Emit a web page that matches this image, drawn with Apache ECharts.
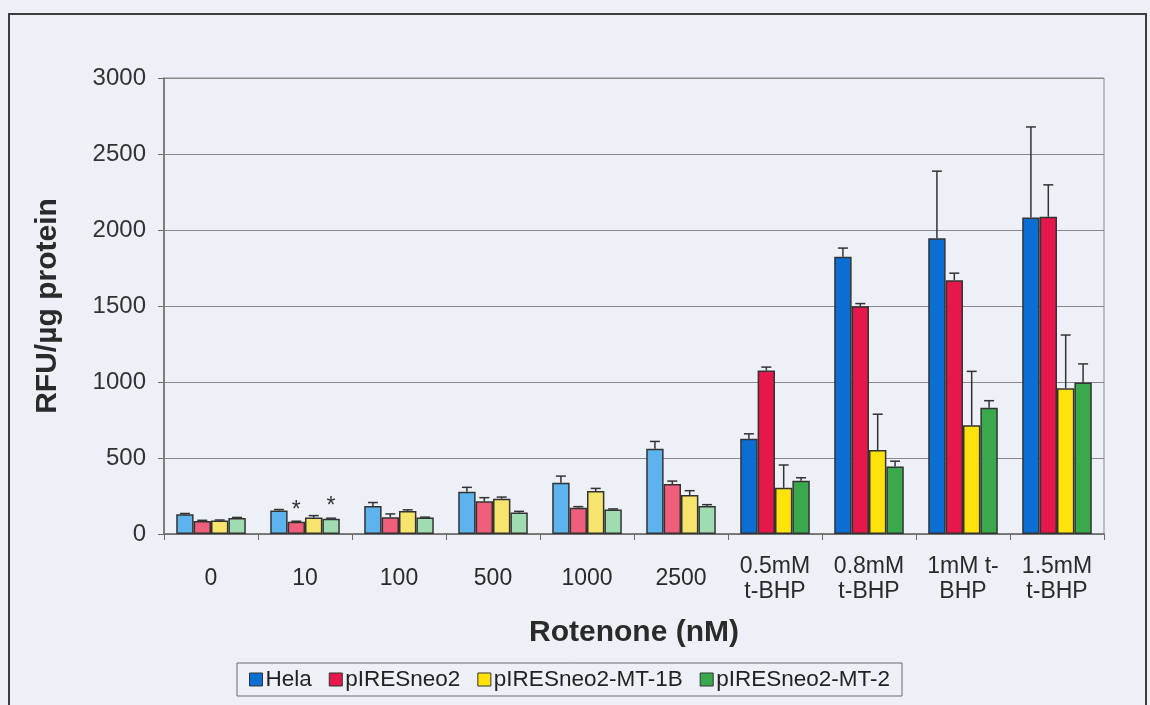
<!DOCTYPE html>
<html>
<head>
<meta charset="utf-8">
<title>RFU/µg protein vs Rotenone</title>
<script src="https://cdn.jsdelivr.net/npm/echarts@6/dist/echarts.min.js"></script>
<style>
  html, body { margin: 0; padding: 0; background: #edf0f7; }
  #chart { width: 1150px; height: 705px; }
</style>
</head>
<body>
<div id="chart"></div>
<script>
// Categories along the x axis (rotenone dose, then t-BHP controls)
const categories = ['0', '10', '100', '500', '1000', '2500',
  '0.5mM\nt-BHP', '0.8mM\nt-BHP', '1mM t-\nBHP', '1.5mM\nt-BHP'];

const seriesNames = ['Hela', 'pIRESneo2', 'pIRESneo2-MT-1B', 'pIRESneo2-MT-2'];

// Mean RFU/µg protein per cell line
const hela  = [130, 154, 185, 278, 337, 561, 626, 1824, 1945, 2083];
const pires = [86, 81, 110, 215, 173, 329, 1076, 1498, 1670, 2087];
const mt1b  = [88, 108, 152, 232, 283, 256, 304, 552, 716, 959];
const mt2   = [106, 101, 108, 142, 162, 184, 350, 444, 831, 996];

// Upper error (standard deviation) per cell line
const helaErr  = [5, 7, 22, 29, 44, 48, 33, 57, 442, 595];
const piresErr = [4, 3, 22, 24, 7, 19, 22, 18, 46, 210];
const mt1bErr  = [4, 13, 7, 11, 17, 29, 150, 236, 354, 350];
const mt2Err   = [3, 3, 3, 7, 3, 9, 20, 35, 46, 123];

// Significance markers: [series index, category index]
const starMarks = [[1, 1], [3, 1]];

const yTicks = { min: 0, max: 3000, interval: 500 };

// Rotenone groups use pale fills, t-BHP groups use full-strength fills
const strongColors = ['#0a6ed2', '#e5174b', '#ffe20a', '#3aa94c'];
const paleColors   = ['#5cb3ee', '#ef5f7b', '#f7e46c', '#9fdcb2'];
const firstStrong = 6;

const values = [hela, pires, mt1b, mt2];
const errors = [helaErr, piresErr, mt1bErr, mt2Err];
const CAT_GAP = 0.26;
const FONT = '"Liberation Sans", Arial, sans-serif';

function barSeries(idx) {
  return {
    type: 'bar',
    name: seriesNames[idx],
    barGap: '0%',
    barCategoryGap: (CAT_GAP * 100) + '%',
    itemStyle: { color: strongColors[idx], borderColor: '#333', borderWidth: 1.5 },
    data: values[idx].map((v, i) => {
      const item = {
        value: v,
        itemStyle: { color: i < firstStrong ? paleColors[idx] : strongColors[idx] }
      };
      if (starMarks.some(s => s[0] === idx && s[1] === i)) {
        item.label = {
          show: true, position: 'top', distance: 0, formatter: '*',
          fontSize: 23, color: '#333', fontFamily: FONT
        };
      }
      return item;
    })
  };
}

function errorSeries(idx) {
  return {
    type: 'custom',
    name: seriesNames[idx] + ' SD',
    z: 3,
    silent: true,
    data: values[idx].map((v, i) => [i, v, v + errors[idx][i]]),
    renderItem: function (params, api) {
      const cat = api.value(0);
      const base = api.coord([cat, api.value(1)]);
      const top = api.coord([cat, api.value(2)]);
      const band = api.size([1, 0])[0];
      const barW = band * (1 - CAT_GAP) / 4;
      const x = base[0] + (idx - 1.5) * barW;
      const half = 5;
      const style = { stroke: '#333', lineWidth: 1.5 };
      return {
        type: 'group',
        children: [
          { type: 'line', shape: { x1: x, y1: base[1], x2: x, y2: top[1] }, style: style },
          { type: 'line', shape: { x1: x - half, y1: top[1], x2: x + half, y2: top[1] }, style: style }
        ]
      };
    }
  };
}

const chart = echarts.init(document.getElementById('chart'), null, { renderer: 'canvas' });

const option = {
  backgroundColor: '#edf0f7',
  animation: false,
  textStyle: { fontFamily: FONT },
  graphic: [{
    type: 'rect',
    shape: { x: 9, y: 14, width: 1137, height: 720 },
    style: { fill: 'none', stroke: '#3c3c3c', lineWidth: 2 },
    silent: true
  }],
  grid: {
    left: 164, right: 46, top: 78, bottom: 171,
    show: true, borderColor: '#8a8a8a', borderWidth: 1, backgroundColor: 'transparent'
  },
  legend: {
    data: seriesNames,
    left: 237, top: 663,
    padding: [5, 12, 5, 12],
    itemGap: 17,
    itemWidth: 13, itemHeight: 13,
    icon: 'rect',
    borderColor: '#6a6a6a', borderWidth: 1,
    textStyle: { fontSize: 22.5, color: '#222', fontFamily: FONT, padding: [0, 0, 0, -2] },
    itemStyle: { borderColor: '#333', borderWidth: 1 }
  },
  xAxis: {
    type: 'category',
    data: categories,
    name: 'Rotenone (nM)',
    nameLocation: 'middle',
    nameGap: 99,
    nameTextStyle: { fontSize: 30, fontWeight: 'bold', color: '#2a2a2a', verticalAlign: 'middle', fontFamily: FONT },
    axisLine: { lineStyle: { color: '#6a6a6a', width: 1.5 } },
    axisTick: { show: true, length: 6, inside: false, lineStyle: { color: '#6a6a6a' } },
    axisLabel: {
      fontSize: 23, color: '#2a2a2a', margin: 45, lineHeight: 25,
      verticalAlign: 'middle', fontFamily: FONT, interval: 0
    },
    splitLine: { show: false }
  },
  yAxis: {
    type: 'value',
    min: yTicks.min, max: yTicks.max, interval: yTicks.interval,
    name: 'RFU/µg protein',
    nameLocation: 'middle',
    nameGap: 101,
    nameTextStyle: { fontSize: 30, fontWeight: 'bold', color: '#2a2a2a', fontFamily: FONT },
    axisLine: { show: true, lineStyle: { color: '#6a6a6a', width: 1.5 } },
    axisTick: { show: true, length: 6, lineStyle: { color: '#6a6a6a' } },
    axisLabel: { fontSize: 24, color: '#333', margin: 18, fontFamily: FONT, formatter: v => String(v) },
    splitLine: { show: true, lineStyle: { color: '#888', width: 1 } }
  },
  series: [0, 1, 2, 3].map(barSeries).concat([0, 1, 2, 3].map(errorSeries))
};

chart.setOption(option);
</script>
</body>
</html>
